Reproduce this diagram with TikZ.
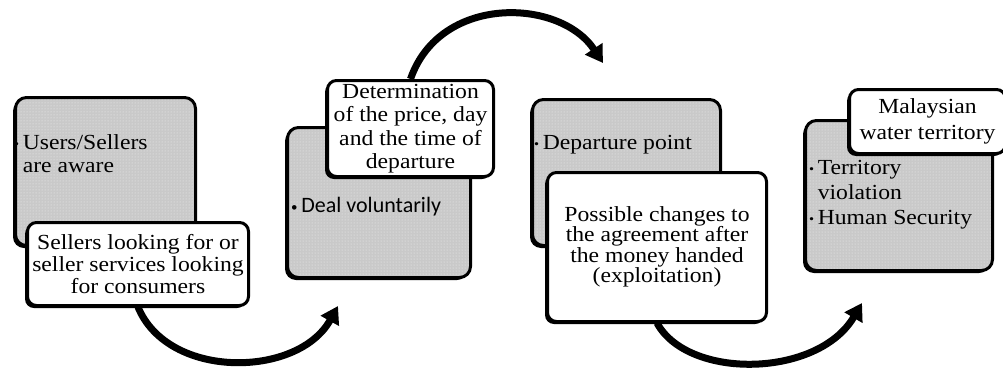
\documentclass[tikz,border=0pt]{standalone}
\usepackage{fontspec}
\setmainfont{Liberation Serif}[FakeStretch=1.1]
\newfontfamily\carl{Carlito}
\usetikzlibrary{shadows,arrows.meta,patterns}
\pgfdeclarelayer{bg}
\pgfsetlayers{bg,main}
\newcommand{\bul}{{\fontsize{13}{13}\selectfont\raisebox{0.15ex}{•}}\,}
\tikzset{
  boxshadow/.style={drop shadow={shadow xshift=-2.5pt, shadow yshift=-2.5pt, fill=black, opacity=1}},
  graybox/.style={boxshadow, preaction={fill=black!21}, pattern=dots, pattern color=black!6,
    draw=black, line width=3pt, rounded corners=11pt, anchor=north west, inner sep=0pt},
  whitebox/.style={boxshadow, fill=white, draw=black, line width=3pt, rounded corners=9pt,
    anchor=north west, inner sep=0pt, align=center, font=\fontsize{21.5}{22}\selectfont},
  graytext/.style={anchor=north west, inner sep=0pt, align=left, font=\fontsize{21.5}{23}\selectfont},
  flow/.style={line width=7pt, -{Triangle[length=17pt,width=20pt]}}
}
\begin{document}
\begin{tikzpicture}[x=1pt,y=-1pt]
\useasboundingbox (0,0) rectangle (1003,367);
% gray boxes
\node[graybox, minimum width=180pt, minimum height=148pt] (gb1) at (14,96) {};
\node[graybox, minimum width=183pt, minimum height=150pt] (gb2) at (286,126) {};
\node[graybox, minimum width=188pt, minimum height=146pt] (gb3) at (531,98) {};
\node[graybox, minimum width=187pt, minimum height=150pt] (gb4) at (804,119) {};
% gray box texts
\node[graytext] (t1) at (14,133) {\begin{tabular}{@{}l@{}l@{}}\bul & Users/Sellers\\ & are aware\end{tabular}};
\node[graytext, font=\carl\fontsize{22}{23}\selectfont] (t2) at (291,197) {\bul Deal voluntarily};
\node[graytext] (t3) at (534,135) {\bul Departure point};
\node[graytext, font=\fontsize{21.5}{25}\selectfont] (t4) at (809,157) {\begin{tabular}{@{}l@{}l@{}}\bul & Territory\\ & violation\\ \bul & Human Security\end{tabular}};
% white boxes
\node[whitebox, minimum width=221pt, minimum height=83pt] (wb1) at (26,221)
  {Sellers looking for or\\ seller services looking\\ for consumers};
\node[whitebox, minimum width=166pt, minimum height=96pt, font=\fontsize{21.5}{23.5}\selectfont] (wb2) at (326,79)
  {Determination\\ of the price, day\\ and the time of\\ departure};
\node[whitebox, minimum width=219pt, minimum height=149pt, font=\fontsize{21.5}{20.5}\selectfont] (wb3) at (546,171)
  {Possible changes to\\ the agreement after\\ the money handed\\ (exploitation)};
\node[whitebox, minimum width=156pt, minimum height=64pt, font=\fontsize{21.5}{26}\selectfont] (wb4) at (848,88)
  {Malaysian\\ water territory};
% arrow end points
\coordinate (e1) at (338,306);
\coordinate (e2) at (603,63);
\coordinate (e3) at (862,303);
\begin{pgfonlayer}{bg}
\draw[flow] (wb1.south) .. controls (168,380) and (298,378) .. (e1);
\draw[flow] (wb2.north) .. controls (440,-6) and (560,-2) .. (e2);
\draw[flow] (wb3.south) .. controls (688,380) and (818,378) .. (e3);
\end{pgfonlayer}
\end{tikzpicture}
\end{document}
